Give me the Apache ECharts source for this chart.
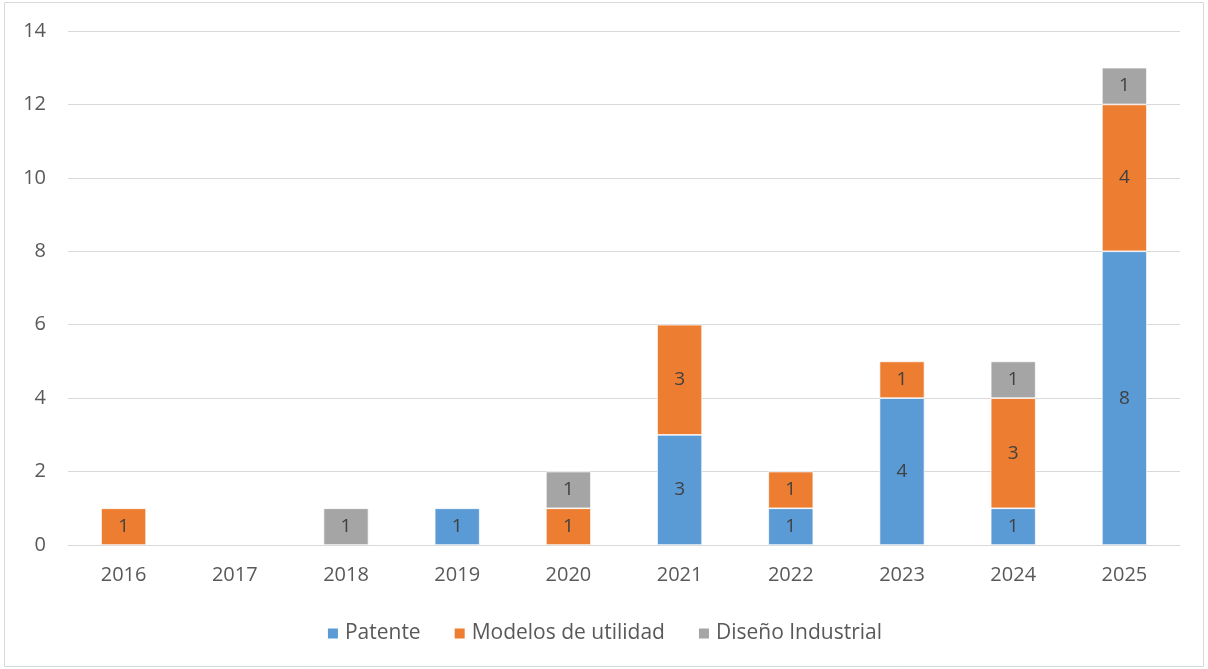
<!DOCTYPE html>
<html><head><meta charset="utf-8">
<script src="https://cdn.jsdelivr.net/npm/echarts@6/dist/echarts.min.js"></script>
<style>html,body{margin:0;padding:0;background:#fff}#c{width:1208px;height:669px}</style>
</head><body><div id="c"></div>
<script>
const years = ['2016','2017','2018','2019','2020','2021','2022','2023','2024','2025'];
const patente = [0,0,0,1,0,3,1,4,1,8];
const modelos = [1,0,0,0,1,3,1,1,3,4];
const diseno = [0,0,1,0,1,0,0,0,1,1];
const seriesNames = ['Patente','Modelos de utilidad','Diseño Industrial'];
const colors = ['#5B9BD5','#ED7D31','#A5A5A5'];
const font = '"Open Sans", "Noto Sans", sans-serif';

const chart = echarts.init(document.getElementById('c'));
const mk = (name, data, color) => ({
  name, type:'bar', stack:'t', barWidth:45,
  data: data.map(v => v === 0 ? null : v),
  itemStyle:{color, borderColor:'#fff', borderWidth:0.7},
  label:{show:true, position:'inside', color:'#404040', fontSize:19, fontFamily:font}
});
chart.setOption({
  animation:false,
  color: colors,
  graphic:[{type:'rect', shape:{x:4.5,y:2.5,width:1199,height:664}, style:{fill:'none', stroke:'#D9D9D9', lineWidth:1}}],
  grid:{left:68, right:28, top:31, bottom:124, containLabel:false},
  legend:{top:618, left:'center', itemWidth:12, itemHeight:12, itemGap:32, icon:'rect',
    textStyle:{color:'#595959', fontSize:21, fontFamily:font, padding:[0,0,0,1]}, data:seriesNames},
  xAxis:{type:'category', data:years, axisTick:{show:false},
    axisLine:{lineStyle:{color:'#D9D9D9', width:1}},
    axisLabel:{color:'#595959', fontSize:20, fontFamily:font, margin:20}},
  yAxis:{type:'value', min:0, max:14, interval:2,
    axisLine:{show:false}, axisTick:{show:false},
    splitLine:{lineStyle:{color:'#D9D9D9', width:1}},
    axisLabel:{color:'#595959', fontSize:20, fontFamily:font, margin:22}},
  series:[mk(seriesNames[0], patente, colors[0]), mk(seriesNames[1], modelos, colors[1]), mk(seriesNames[2], diseno, colors[2])]
});
</script></body></html>
